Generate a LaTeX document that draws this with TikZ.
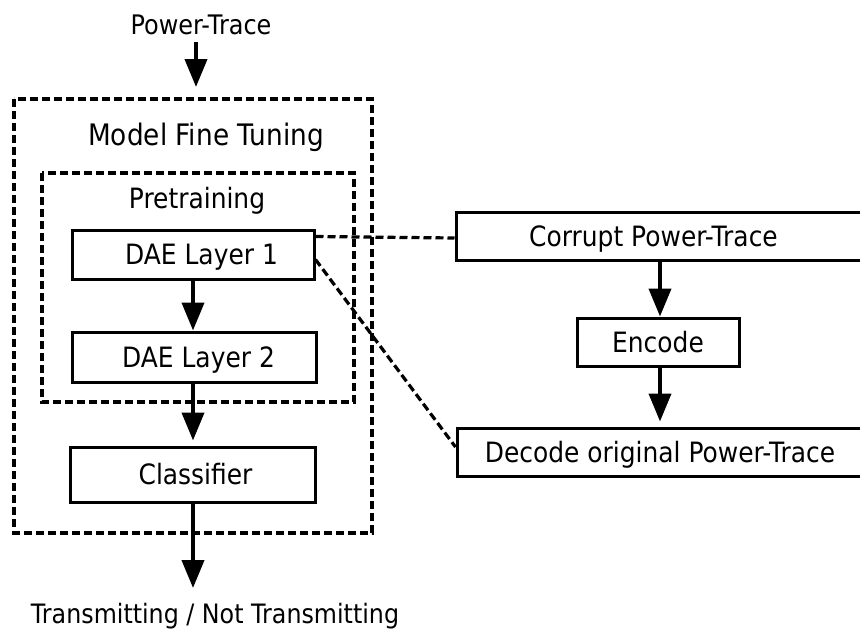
\documentclass[tikz,border=0pt]{standalone}
\usepackage{fontspec}
\setmainfont{DejaVu Sans}[FakeStretch=0.89]
\usetikzlibrary{arrows.meta}
\begin{document}
\begin{tikzpicture}[x=1pt,y=-1pt,
  every node/.style={font=\fontsize{28}{32}\selectfont, inner sep=0pt},
  box/.style={draw, line width=3pt, text height=20.2pt, text depth=0pt, anchor=center},
  dashbox/.style={draw, line width=3.2pt, dash pattern=on 8pt off 4pt},
  dline/.style={line width=3.2pt, dash pattern=on 8pt off 4pt},
  arr/.style={line width=4pt, -{Triangle[width=22pt,length=28pt]}},
  lbl/.style={anchor=base}]
\clip (0,0) rectangle (860,630);
\useasboundingbox (0,0) rectangle (860,630);
% dashed containers
\draw[dashbox] (14,99) rectangle (372,533);
\draw[dashbox] (42,173) rectangle (354,402);
% labels
\node[lbl, font=\fontsize{26.9}{31}\selectfont] (pt) at (201,34) {Power-Trace};
\node[lbl, font=\fontsize{29.6}{34}\selectfont] (mft) at (206,145) {Model Fine Tuning};
\node[lbl] (pre) at (197,208) {Pretraining};
\node[lbl, font=\fontsize{26.7}{31}\selectfont] (out) at (215,623) {Transmitting / Not Transmitting};
% boxes
\node[box, minimum width=242pt, minimum height=49pt] (dae1) at (193,254.5) {\hspace*{17pt}DAE Layer 1};
\node[box, minimum width=244pt, minimum height=50pt] (dae2) at (194,357) {\hspace*{9pt}DAE Layer 2};
\node[box, minimum width=245pt, minimum height=55pt] (cls) at (192.5,474.5) {\hspace*{6pt}Classifier};
\node[box, minimum width=408pt, minimum height=48pt] (cor) at (660,236) {Corrupt Power-Trace\hspace*{13pt}};
\node[box, minimum width=162pt, minimum height=48pt] (enc) at (658,342) {Encode};
\node[box, minimum width=406pt, minimum height=48pt] (dec) at (660,452) {Decode original Power-Trace};
% arrows
\coordinate (inStart) at (196,42);
\coordinate (inEnd) at (196,87);
\coordinate (outEnd) at (193,588);
\draw[arr] (inStart) -- (inEnd);
\draw[arr] (dae1.south -| 193,0) -- (dae2.north -| 193,0);
\draw[arr, shorten >=5pt] (dae2.south -| 193,0) -- (cls.north -| 193,0);
\draw[arr] (cls.south -| 193,0) -- (outEnd);
\draw[arr] (cor.south) -- (cor.south |- enc.north);
\draw[arr, shorten >=5pt] (enc.south -| cor.south) -- (dec.north);
% dashed links
\draw[dline] ([yshift=-8pt]dae1.north east) -- (cor.west |- 0,238);
\draw[dline] ([yshift=-5pt]dae1.east) -- ([yshift=5pt]dec.west);
\end{tikzpicture}
\end{document}
